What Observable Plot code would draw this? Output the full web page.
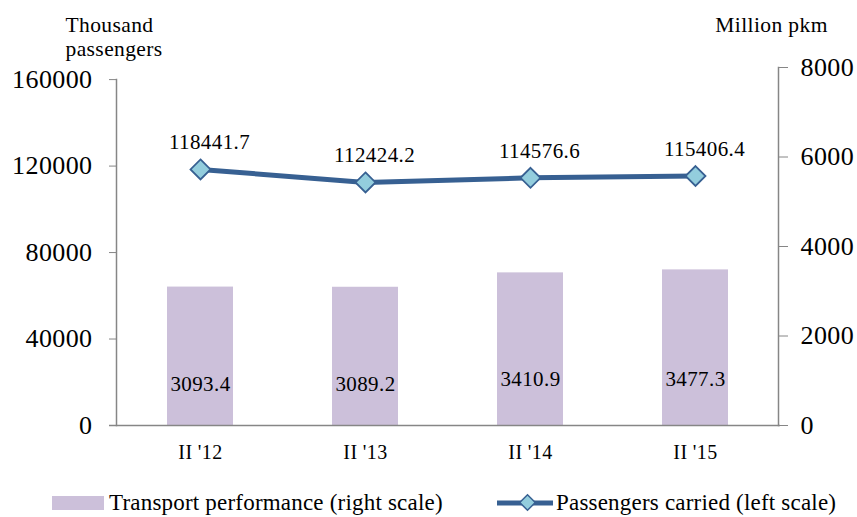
<!DOCTYPE html>
<html>
<head>
<meta charset="utf-8">
<script src="https://cdn.jsdelivr.net/npm/d3@7"></script>
<script src="https://cdn.jsdelivr.net/npm/@observablehq/plot@0.6"></script>
<style>
  body { margin: 0; background: #fff; font-family: "Liberation Serif", "Times New Roman", serif; }
  #chart svg { font-family: "Liberation Serif", "Times New Roman", serif; overflow: visible; }
  .legend { position: relative; height: 47px; width: 857px; font-size: 23px; color: #000; letter-spacing: 0.2px; }
  .legend .item { position: absolute; top: 20px; display: flex; align-items: center; white-space: nowrap; }
</style>
</head>
<body>
<div id="chart"></div>
<div class="legend">
  <div class="item" style="left:52px;"><span style="display:inline-block;width:52px;height:14px;background:#CCC0DA;margin-right:5px;"></span>Transport performance (right scale)</div>
  <div class="item" style="left:497px;"><svg width="58" height="20" style="margin-right:1px"><line x1="0" y1="10" x2="56" y2="10" stroke="#376092" stroke-width="5"/><rect x="25" y="4" width="11" height="11" transform="rotate(45 30.5 9.5)" fill="#93CDDD" stroke="#376092" stroke-width="1.5"/></svg>Passengers carried (left scale)</div>
</div>
<script>
const periods = ["II '12", "II '13", "II '14", "II '15"];
const passengers = [118441.7, 112424.2, 114576.6, 115406.4];   // thousand passengers, left scale
const performance = [3093.4, 3089.2, 3410.9, 3477.3];          // million pkm, right scale
const leftTicks = [0, 40000, 80000, 120000, 160000];
const rightTicks = [0, 2000, 4000, 6000, 8000];
// right axis (0–8000) spans a slightly taller range than the left axis (0–160000)
const ratio = 20.7;

const rows = periods.map((p, i) => ({period: p, passengers: passengers[i], performance: performance[i]}));

const chart = Plot.plot({
  width: 857,
  height: 470,
  marginLeft: 116,
  marginRight: 79,
  marginTop: 67,
  marginBottom: 45,
  style: {fontFamily: "Liberation Serif, Times New Roman, serif", color: "#000", background: "#fff"},
  x: {domain: periods, paddingInner: 0.6, paddingOuter: 0.3},
  y: {domain: [0, 8000 * ratio]},
  marks: [
    Plot.barY(rows, {x: "period", y: d => d.performance * ratio, fill: "#CCC0DA"}),
    Plot.frame({anchor: "left", stroke: "#868686", strokeWidth: 1.5, insetTop: 12}),
    Plot.frame({anchor: "right", stroke: "#868686", strokeWidth: 1.5}),
    Plot.ruleY([0], {stroke: "#868686", strokeWidth: 1.5, insetLeft: -7, insetRight: -2}),
    Plot.axisY({anchor: "left", ticks: leftTicks, tickSize: 7, tickPadding: 17, fontSize: 26, stroke: "#868686", label: null, tickFormat: d => String(d)}),
    Plot.axisY({anchor: "right", ticks: rightTicks.map(t => t * ratio), tickSize: 9, tickPadding: 13, fontSize: 26, stroke: "#868686", label: null, tickFormat: d => String(Math.round(d / ratio))}),
    Plot.axisX({tickSize: 0, tickPadding: 19, fontSize: 20, label: null}),
    Plot.text(rows, {x: "period", y: d => d.performance * ratio * 0.3, text: d => d.performance.toFixed(1), fontSize: 21, fill: "#000"}),
    Plot.line(rows, {x: "period", y: "passengers", stroke: "#376092", strokeWidth: 5}),
    Plot.dot(rows, {x: "period", y: "passengers", symbol: "diamond2", r: 9, fill: "#93CDDD", stroke: "#376092", strokeWidth: 1.8}),
    Plot.text(rows, {x: "period", y: "passengers", text: d => d.passengers.toFixed(1), dy: -27, dx: 9, fontSize: 21, fill: "#000"}),
    Plot.text(["Thousand\npassengers"], {frameAnchor: "top-left", dx: -51, dy: -31, textAnchor: "start", lineAnchor: "middle", lineHeight: 1.08, fontSize: 21.5, fill: "#000"}),
    Plot.text(["Million pkm"], {frameAnchor: "top-right", dx: -7, dy: -42, textAnchor: "middle", lineAnchor: "middle", fontSize: 21.5, fill: "#000"})
  ]
});
chart.querySelectorAll("text").forEach(t => t.style.letterSpacing = "0.4px");
document.getElementById("chart").appendChild(chart);
</script>
</body>
</html>
